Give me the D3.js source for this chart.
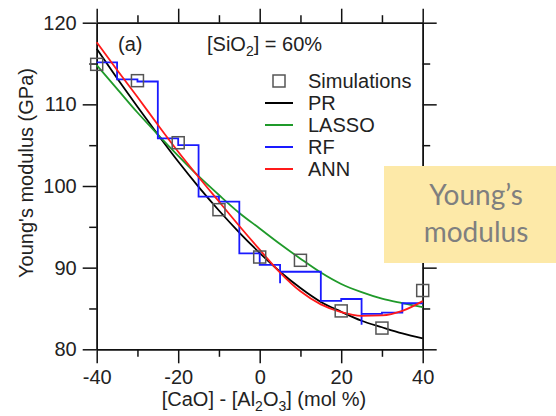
<!DOCTYPE html>
<html>
<head>
<meta charset="utf-8">
<script src="https://cdn.jsdelivr.net/npm/d3@7"></script>
<style>
  body { margin: 0; background: #fff; }
  #chart text { font-family: "Liberation Sans", Arial, Helvetica, sans-serif; }
</style>
</head>
<body>
<div id="chart"></div>
<script>
// Simulated Young's modulus values (GPa) vs [CaO] - [Al2O3] (mol %)
const simX = [-40, -30, -20, -10, 0, 10, 20, 30, 40];
const simY = [114.9, 112.9, 105.3, 97.1, 91.3, 90.9, 84.7, 82.6, 87.2];

// Model curves, every 5 mol %
const curveX = [-40, -35, -30, -25, -20, -15, -10, -5, 0, 5, 10, 15, 20, 25, 30, 35, 40];
const prY    = [116.8, 113.2, 109.7, 106.3, 103.0, 99.9, 97.0, 94.3, 91.8, 89.5, 87.5, 85.8, 84.6, 83.5, 82.7, 81.95, 81.35];
const lassoY = [114.8, 111.9, 109.0, 106.3, 103.7, 101.2, 98.9, 96.7, 94.8, 92.9, 91.1, 89.4, 88.0, 87.0, 86.2, 85.65, 85.15];
const annY   = [117.6, 114.2, 110.9, 107.5, 104.2, 101.1, 98.1, 95.1, 92.2, 89.4, 87.1, 85.5, 84.55, 84.1, 84.15, 84.7, 85.9];

// RF is a step function: each value holds until the next x
const rfX = [-40, -35, -30, -25, -20, -15, -10, -5, 0, 5, 5, 15, 20, 25, 25, 30, 35, 40];
const rfY = [115.15, 113.07, 112.8, 105.84, 105.0, 98.7, 98.08, 91.76, 90.33, 88.1, 89.5, 85.92, 86.16, 83.0, 84.33, 84.5, 85.64, 85.64];

const xMajor = [-40, -20, 0, 20, 40];
const xMinor = [-30, -10, 10, 30];
const yMajor = [80, 90, 100, 110, 120];
const yMinor = [85, 95, 105, 115];

const legendNames  = ['PR', 'LASSO', 'RF', 'ANN'];
const legendColors = ['#000000', '#1f9a2a', '#1a1aff', '#ff1a1a'];

let width = 556,
    height = 416;

let plot = {left: 96.7, right: 422.7, top: 22.7, bottom: 349.3};

let svg = d3.select('#chart')
            .append('svg')
            .attr('width', width)
            .attr('height', height);

let x = d3.scaleLinear().domain([-40, 40]).range([plot.left, plot.right]);
let y = d3.scaleLinear().domain([80, 120]).range([plot.bottom, plot.top]);

// Frame with outward ticks on all four sides
function drawAxis(axisFn, values, size, labels, transform) {
  let g = svg.append('g')
             .attr('transform', transform)
             .call(axisFn.tickValues(values)
                         .tickSize(size)
                         .tickSizeOuter(0)
                         .tickPadding(labels ? 7 : 0)
                         .tickFormat(d => labels ? String(d) : ''));
  g.selectAll('path, line').attr('stroke', '#111').attr('stroke-width', 1.5);
  g.selectAll('text').attr('font-size', 20).attr('fill', '#222');
  return g;
}

drawAxis(d3.axisBottom(x), xMajor, 14, true, `translate(0,${plot.bottom})`);
drawAxis(d3.axisBottom(x), xMinor, 7.5, false, `translate(0,${plot.bottom})`);
drawAxis(d3.axisTop(x), xMajor, 14, false, `translate(0,${plot.top})`);
drawAxis(d3.axisTop(x), xMinor, 7.5, false, `translate(0,${plot.top})`);
drawAxis(d3.axisLeft(y), yMajor, 14, true, `translate(${plot.left},0)`)
  .selectAll('text').attr('dx', 1);
drawAxis(d3.axisLeft(y), yMinor, 7.5, false, `translate(${plot.left},0)`);
drawAxis(d3.axisRight(y), yMajor, 14, false, `translate(${plot.right},0)`);
drawAxis(d3.axisRight(y), yMinor, 7.5, false, `translate(${plot.right},0)`);

// Axis titles
svg.append('text')
   .attr('transform', `translate(33,173) rotate(-90)`)
   .attr('text-anchor', 'middle')
   .attr('font-size', 20)
   .attr('fill', '#222')
   .text("Young's modulus (GPa)");

let xTitle = svg.append('text')
                .attr('x', 264)
                .attr('y', 406)
                .attr('text-anchor', 'middle')
                .attr('font-size', 20)
                .attr('fill', '#222');
xTitle.append('tspan').text('[CaO] - [Al');
xTitle.append('tspan').attr('font-size', 14).attr('dy', 5).text('2');
xTitle.append('tspan').attr('dy', -5).text('O');
xTitle.append('tspan').attr('font-size', 14).attr('dy', 5).text('3');
xTitle.append('tspan').attr('dy', -5).text('] (mol %)');

// Panel annotations
svg.append('text')
   .attr('x', 118)
   .attr('y', 51)
   .attr('font-size', 20)
   .attr('fill', '#222')
   .text('(a)');

let siText = svg.append('text')
                .attr('x', 207)
                .attr('y', 51)
                .attr('font-size', 20)
                .attr('fill', '#222');
siText.append('tspan').text('[SiO');
siText.append('tspan').attr('font-size', 14).attr('dy', 5).text('2');
siText.append('tspan').attr('dy', -5).text('] = 60%');

// Model lines
let line = d3.line()
             .x(d => x(d[0]))
             .y(d => y(d[1]))
             .curve(d3.curveMonotoneX);

let stepLine = d3.line()
                 .x(d => x(d[0]))
                 .y(d => y(d[1]))
                 .curve(d3.curveStepAfter);

let series = [
  {pts: curveX.map((v, i) => [v, prY[i]]), color: legendColors[0], gen: line},
  {pts: curveX.map((v, i) => [v, lassoY[i]]), color: legendColors[1], gen: line},
  {pts: rfX.map((v, i) => [v, rfY[i]]), color: legendColors[2], gen: stepLine},
  {pts: curveX.map((v, i) => [v, annY[i]]), color: legendColors[3], gen: line}
];

svg.selectAll('.model')
   .data(series)
   .enter()
   .append('path')
   .attr('class', 'model')
   .attr('fill', 'none')
   .attr('stroke', d => d.color)
   .attr('stroke-width', 1.8)
   .attr('d', d => d.gen(d.pts));

// Simulation points, hollow squares
let sq = 12;
svg.selectAll('.sim')
   .data(simX.map((v, i) => [v, simY[i]]))
   .enter()
   .append('rect')
   .attr('class', 'sim')
   .attr('x', d => x(d[0]) - sq / 2)
   .attr('y', d => y(d[1]) - sq / 2)
   .attr('width', sq)
   .attr('height', sq)
   .attr('fill', 'none')
   .attr('stroke', '#555')
   .attr('stroke-width', 1.5);

// Legend
let legend = svg.append('g').attr('transform', 'translate(265,81)');

legend.append('rect')
      .attr('x', 8)
      .attr('y', -6)
      .attr('width', 12)
      .attr('height', 12)
      .attr('fill', 'none')
      .attr('stroke', '#555')
      .attr('stroke-width', 1.5);

legend.append('text')
      .attr('x', 43)
      .attr('y', 7)
      .attr('font-size', 20)
      .attr('fill', '#222')
      .text('Simulations');

let rows = legend.selectAll('.row')
                 .data(legendNames)
                 .enter()
                 .append('g')
                 .attr('class', 'row')
                 .attr('transform', (d, i) => `translate(0,${22 * (i + 1)})`);

rows.append('line')
    .attr('x1', 0)
    .attr('x2', 28)
    .attr('stroke', (d, i) => legendColors[i])
    .attr('stroke-width', 2);

rows.append('text')
    .attr('x', 43)
    .attr('y', 7)
    .attr('font-size', 20)
    .attr('fill', '#222')
    .text(d => d);

// Slide label box on top of the chart
svg.append('rect')
   .attr('x', 384)
   .attr('y', 166)
   .attr('width', 180)
   .attr('height', 97)
   .attr('fill', '#fde9a8');

svg.append('text')
   .attr('x', 476)
   .attr('y', 205)
   .attr('text-anchor', 'middle')
   .style('font-family', 'Lato, "Open Sans", sans-serif')
   .attr('font-size', 28)
   .attr('fill', '#7f7f7f')
   .text('Young\u2019s');

svg.append('text')
   .attr('x', 476)
   .attr('y', 242)
   .attr('text-anchor', 'middle')
   .style('font-family', 'Lato, "Open Sans", sans-serif')
   .attr('font-size', 28)
   .attr('fill', '#7f7f7f')
   .text('modulus');
</script>
</body>
</html>
